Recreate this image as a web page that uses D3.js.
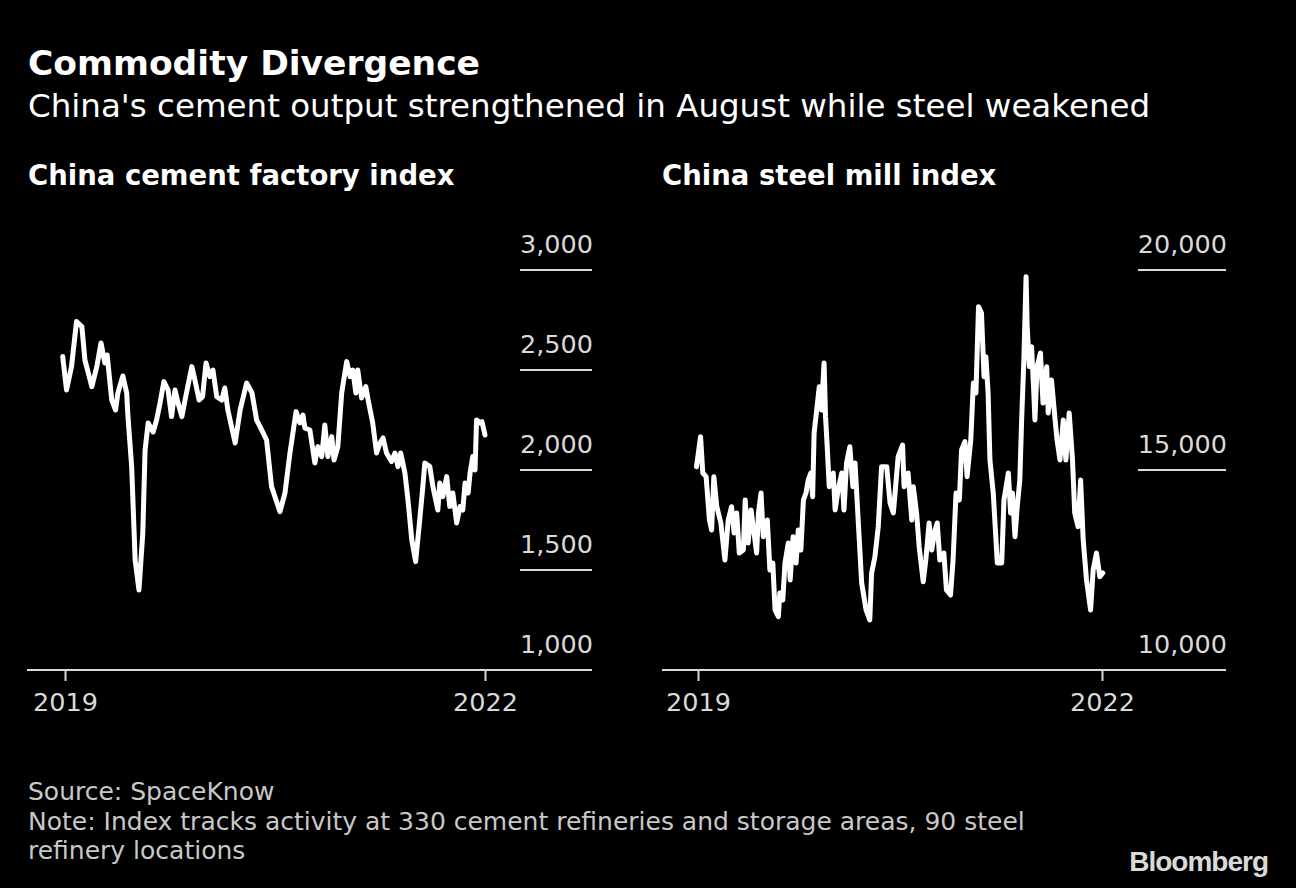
<!DOCTYPE html>
<html><head><meta charset="utf-8">
<script src="https://cdn.jsdelivr.net/npm/d3@7"></script>
<style>
html,body{margin:0;padding:0;background:#000;}
svg{display:block;}
text{font-family:"DejaVu Sans","Open Sans",sans-serif;}
</style></head>
<body>
<svg id="c" width="1296" height="888"></svg>
<script>
const cementDates = ["2018-12-26","2019-01-05","2019-01-18","2019-01-31","2019-02-14","2019-02-22","2019-03-12","2019-03-25","2019-04-05","2019-04-15","2019-04-21","2019-05-03","2019-05-13","2019-05-19","2019-06-01","2019-06-11","2019-06-14","2019-06-24","2019-07-03","2019-07-13","2019-07-23","2019-07-29","2019-08-06","2019-08-19","2019-08-28","2019-09-06","2019-09-16","2019-09-27","2019-10-06","2019-10-15","2019-10-23","2019-11-02","2019-11-12","2019-11-28","2019-12-06","2019-12-17","2019-12-26","2020-01-04","2020-01-14","2020-01-22","2020-02-01","2020-02-14","2020-02-22","2020-03-01","2020-03-20","2020-04-02","2020-04-19","2020-05-03","2020-05-15","2020-05-24","2020-06-10","2020-06-23","2020-07-15","2020-07-28","2020-08-10","2020-08-26","2020-09-05","2020-09-13","2020-09-18","2020-10-01","2020-10-14","2020-10-22","2020-11-01","2020-11-09","2020-11-17","2020-11-27","2020-12-03","2020-12-13","2020-12-23","2021-01-05","2021-01-14","2021-01-21","2021-01-29","2021-02-03","2021-02-13","2021-02-24","2021-03-02","2021-03-14","2021-03-24","2021-04-02","2021-04-10","2021-04-19","2021-05-02","2021-05-11","2021-05-19","2021-05-26","2021-06-06","2021-06-14","2021-06-24","2021-07-04","2021-07-13","2021-07-22","2021-07-28","2021-08-10","2021-08-18","2021-08-31","2021-09-05","2021-09-13","2021-09-23","2021-10-01","2021-10-09","2021-10-19","2021-10-28","2021-11-04","2021-11-10","2021-11-18","2021-11-23","2021-11-30","2021-12-06","2021-12-10","2021-12-19","2021-12-24","2022-01-01"];
const cementValues = [2567,2400,2517,2742,2717,2550,2417,2517,2635,2535,2575,2350,2300,2385,2470,2385,2275,2017,1550,1400,1685,2100,2235,2190,2250,2335,2442,2400,2267,2400,2335,2267,2367,2517,2450,2350,2367,2535,2467,2500,2367,2350,2410,2300,2135,2300,2435,2385,2250,2217,2150,1917,1792,1885,2085,2292,2235,2275,2210,2200,2035,2117,2067,2225,2067,2167,2050,2117,2385,2542,2467,2500,2385,2500,2360,2417,2350,2235,2085,2135,2160,2085,2042,2085,2017,2085,1985,1850,1650,1542,1717,1900,2035,2017,1917,1800,1935,1867,1967,1817,1885,1735,1817,1800,1935,1885,1985,2067,2000,2250,2235,2242,2175];

const steelDates = ["2018-12-28","2019-01-08","2019-01-14","2019-01-23","2019-02-01","2019-02-07","2019-02-13","2019-02-21","2019-03-04","2019-03-15","2019-03-24","2019-04-02","2019-04-09","2019-04-16","2019-04-23","2019-05-04","2019-05-09","2019-05-17","2019-05-25","2019-06-02","2019-06-09","2019-06-14","2019-06-21","2019-06-27","2019-07-08","2019-07-15","2019-07-23","2019-07-29","2019-08-07","2019-08-11","2019-08-19","2019-08-25","2019-09-03","2019-09-08","2019-09-16","2019-09-24","2019-09-30","2019-10-07","2019-10-14","2019-10-21","2019-10-27","2019-11-03","2019-11-08","2019-11-12","2019-11-19","2019-11-26","2019-12-02","2019-12-09","2019-12-13","2019-12-18","2019-12-23","2020-01-03","2020-01-08","2020-01-16","2020-01-26","2020-02-01","2020-02-08","2020-02-17","2020-02-25","2020-03-02","2020-03-11","2020-03-20","2020-04-01","2020-04-11","2020-04-16","2020-04-25","2020-05-04","2020-05-13","2020-05-27","2020-06-05","2020-06-14","2020-06-27","2020-07-09","2020-07-13","2020-07-24","2020-08-03","2020-08-07","2020-08-16","2020-08-23","2020-09-03","2020-09-10","2020-09-19","2020-09-26","2020-10-05","2020-10-11","2020-10-18","2020-10-29","2020-11-05","2020-11-16","2020-11-23","2020-12-01","2020-12-10","2020-12-16","2020-12-25","2020-12-31","2021-01-10","2021-01-17","2021-01-24","2021-01-31","2021-02-08","2021-02-15","2021-02-20","2021-02-26","2021-03-03","2021-03-12","2021-03-23","2021-04-04","2021-04-10","2021-04-22","2021-04-28","2021-05-03","2021-05-10","2021-05-16","2021-05-23","2021-05-28","2021-06-03","2021-06-09","2021-06-12","2021-06-18","2021-06-24","2021-06-30","2021-07-03","2021-07-09","2021-07-18","2021-07-25","2021-08-04","2021-08-08","2021-08-17","2021-08-26","2021-09-01","2021-09-09","2021-09-18","2021-09-25","2021-10-04","2021-10-13","2021-10-19","2021-10-28","2021-11-04","2021-11-11","2021-11-20","2021-12-01","2021-12-08","2021-12-17","2021-12-26","2022-01-03"];
const steelValues = [15083,15833,14925,14833,13750,13500,14833,14083,13675,12750,13750,14083,13425,13925,12925,13000,14250,13175,14000,13425,12925,13925,14425,13333,13750,12500,12675,11500,11333,11925,11750,12675,13175,12250,13333,12675,13500,13000,14250,14425,14750,14925,14333,15925,16500,17083,16500,17675,16333,15500,14583,14925,14000,14500,14925,14000,15175,15583,14583,15175,13675,12175,11500,11250,12425,12833,13583,15083,15083,14175,13925,15333,15625,14583,14925,13750,14583,13925,13083,12208,12750,13675,13000,13500,13675,12750,12925,12000,11875,12750,14425,14250,15500,15708,14833,15750,17175,16925,19083,18925,17333,17833,16925,15250,14425,12675,12675,14250,14925,13925,14425,13333,14083,14750,16250,17750,19833,18583,17583,18083,16925,16250,17583,17925,16675,17583,16425,17250,16333,15750,15250,16250,15250,16425,15250,13925,13583,14750,13250,12250,11500,12500,12925,12333,12425];

const cementTicks = [1000,1500,2000,2500,3000];
const steelTicks = [10000,15000,20000];
const yearTicks = ["2019-01-01","2022-01-01"];

const titleText = "Commodity Divergence";
const subtitleText = "China's cement output strengthened in August while steel weakened";
const panelTitles = ["China cement factory index","China steel mill index"];
const footerLines = ["Source: SpaceKnow","Note: Index tracks activity at 330 cement refineries and storage areas, 90 steel","refinery locations"];

const parse = d3.timeParse("%Y-%m-%d");
const svg = d3.select("#c");
svg.append("rect").attr("width",1296).attr("height",888).attr("fill","#000");

svg.append("text").attr("x",28).attr("y",75).attr("fill","#fff")
  .attr("font-size",34.5).attr("font-weight",700).text(titleText);
svg.append("text").attr("x",28).attr("y",117).attr("fill","#fff")
  .attr("font-size",32.5).text(subtitleText);

function panel(opts){
  const {title, tx, dates, values, yDomain, yTicks, xRange, axisX0, axisX1, gridX0} = opts;
  svg.append("text").attr("x",tx).attr("y",185).attr("fill","#fff")
    .attr("font-size",27.5).attr("font-weight",700).text(title);
  const x = d3.scaleTime().domain([parse("2019-01-01"),parse("2022-01-01")]).range(xRange);
  const y = d3.scaleLinear().domain(yDomain).range([670,270]);
  const g = svg.append("g");
  yTicks.forEach(t=>{
    if (t !== yDomain[0]) {
      g.append("line").attr("x1",gridX0).attr("x2",axisX1).attr("y1",y(t)).attr("y2",y(t))
        .attr("stroke","#d9d9d9").attr("stroke-width",2);
    }
    g.append("text").attr("x",axisX1+1).attr("y",y(t)-17).attr("text-anchor","end")
      .attr("fill","#d9d9d9").attr("font-size",25.5).text(d3.format(",")(t));
  });
  g.append("line").attr("x1",axisX0).attr("x2",axisX1).attr("y1",670).attr("y2",670)
    .attr("stroke","#d9d9d9").attr("stroke-width",2);
  const ax = svg.append("g").attr("transform","translate(0,670)")
    .call(d3.axisBottom(x).tickValues(yearTicks.map(parse)).tickFormat(d3.timeFormat("%Y")).tickSize(11).tickPadding(12));
  ax.select(".domain").remove();
  ax.selectAll(".tick line").attr("stroke","#d9d9d9").attr("stroke-width",2);
  ax.selectAll(".tick text").attr("fill","#d9d9d9").attr("font-size",25.5)
    .attr("font-family","'DejaVu Sans','Open Sans',sans-serif");
  const data = dates.map((d,i)=>({d:parse(d),v:values[i]}));
  const line = d3.line().x(p=>x(p.d)).y(p=>y(p.v));
  svg.append("path").datum(data).attr("d",line).attr("fill","none")
    .attr("stroke","#fff").attr("stroke-width",5).attr("stroke-linejoin","round").attr("stroke-linecap","round");
}

panel({title:panelTitles[0], tx:28, dates:cementDates, values:cementValues,
  yDomain:[1000,3000], yTicks:cementTicks, xRange:[65,485], axisX0:27, axisX1:592, gridX0:520});
panel({title:panelTitles[1], tx:662, dates:steelDates, values:steelValues,
  yDomain:[10000,20000], yTicks:steelTicks, xRange:[698,1102], axisX0:662, axisX1:1226, gridX0:1138});

const footerY = [800,829.5,859];
footerLines.forEach((t,i)=>{
  svg.append("text").attr("x",28).attr("y",footerY[i]).attr("fill","#c8c8c8")
    .attr("font-size",25).text(t);
});
svg.append("text").attr("x",1268).attr("y",871).attr("text-anchor","end").attr("fill","#d9d9d9")
  .attr("font-size",28).attr("font-weight",700).attr("letter-spacing",-1)
  .style("font-family","'Liberation Sans',Arial,sans-serif").text("Bloomberg");
</script>
</body></html>
